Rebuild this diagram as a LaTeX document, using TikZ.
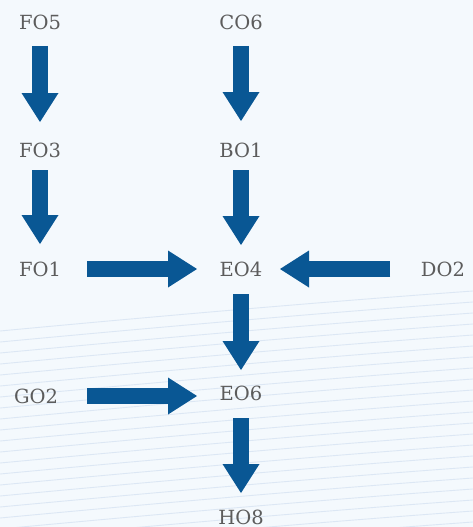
\documentclass[tikz,border=0pt]{standalone}
\usepackage{fontspec}
\setmainfont{DejaVu Serif}
\usepackage{xcolor}
\usepackage{tikz}
\usetikzlibrary{arrows.meta,positioning,calc}
\definecolor{flowblue}{RGB}{9, 87, 148}
\definecolor{labelgray}{RGB}{92, 92, 92}
\definecolor{paper}{RGB}{244, 249, 253}
\definecolor{stripe}{RGB}{220, 231, 244}

\begin{document}
\begin{tikzpicture}[x=1pt,y=-1pt,>={Triangle[length=29pt,width=37pt,line width=0pt]},every node/.style={font=\fontsize{19.5}{24}\selectfont,text=labelgray,inner sep=0pt},flow/.style={->,draw=flowblue,line width=16pt}]
\fill[paper](0,0) rectangle (473,527);
\useasboundingbox (0,0) rectangle (473,527);
\begin{scope}
\clip (0,0) rectangle (473,527);
\foreach \i in {0,...,21} \draw[stripe,line width=0.9pt] (0,{331+11*\i}) .. controls (160,{316+11*\i}) and (320,{302+11*\i}) .. (473,{291+11*\i});
\end{scope}
\node(fo5) at (40,22){FO5};
\node(co6) at (241,22){CO6};
\node(fo3) at (40,150){FO3};
\node(bo1) at (241,150){BO1};
\node(fo1) at (40,269){FO1};
\node(eo4) at (241,269){EO4};
\node(do2) at (443,269){DO2};
\node(go2) at (36,396){GO2};
\node(eo6) at (241,393){EO6};
\node(ho8) at (241,517){HO8};
\draw[flow,shorten <=24pt,shorten >=28pt](fo5.center)--(fo3.center); \draw[flow,shorten <=24pt,shorten >=29pt](co6.center)--(bo1.center);
\draw[flow,shorten <=20pt,shorten >=25pt](fo3.center)--(fo1.center); \draw[flow,shorten <=20pt,shorten >=24pt](bo1.center)--(eo4.center);
\draw[flow,shorten <=25pt,shorten >=23pt](eo4.center)--(eo6.center); \draw[flow,shorten <=25pt,shorten >=24pt](eo6.center)--(ho8.center);
\draw[flow,shorten <=47pt,shorten >=44pt](fo1.center)--(eo4.center); \draw[flow,shorten <=53pt,shorten >=39pt](do2.center)--(eo4.center);
\draw[flow,shorten <=51pt,shorten >=44pt](go2.center)--(go2.center -| eo6.center);
\end{tikzpicture}
\end{document}
